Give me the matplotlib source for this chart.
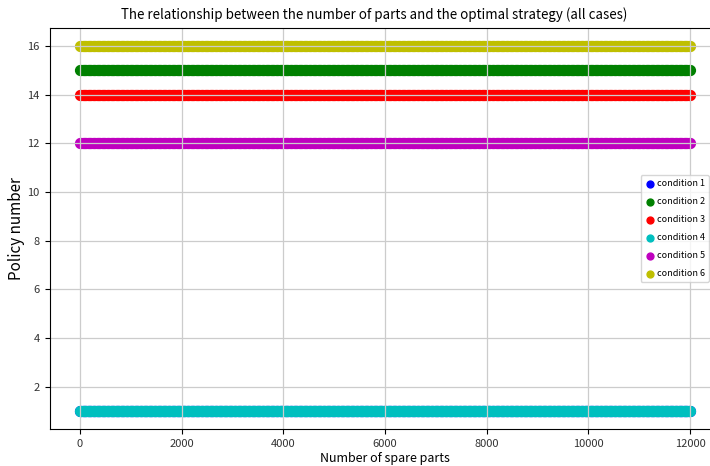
import numpy as np
import matplotlib
matplotlib.use("Agg")
import matplotlib.pyplot as plt

plt.rcParams['font.family'] = ['Noto Sans CJK SC', 'DejaVu Sans']

# number of spare parts evaluated
spare_parts = np.arange(0, 12001, 25)

# optimal policy number found for each condition
conditions = ["condition 1", "condition 2", "condition 3",
              "condition 4", "condition 5", "condition 6"]
policy_numbers = [1, 15, 14, 1, 12, 16]
colors = ["b", "g", "r", "c", "m", "y"]

fig = plt.figure(figsize=(7.10, 4.66), dpi=100)
ax = fig.add_axes([49.5 / 710, (466 - 429.3) / 466, 671 / 710, 401.6 / 466])

for name, policy, col in zip(conditions, policy_numbers, colors):
    ax.scatter(spare_parts, np.full(spare_parts.shape, policy), s=50,
               color=col, label=name)

ax.grid(True, color="#cccccc", linewidth=0.9)
ax.set_xticks([0, 2000, 4000, 6000, 8000, 10000, 12000])
ax.set_yticks([2, 4, 6, 8, 10, 12, 14, 16])
ax.tick_params(labelsize=8, labelcolor="#333333")
ax.set_xlabel("Number of spare parts", fontsize=9, labelpad=2)
ax.set_ylabel("Policy number", fontsize=11, labelpad=2)
ax.set_title("The relationship between the number of parts and the optimal strategy (all cases)",
             fontsize=9.6, x=(374 - 49.5) / 671)
ax.legend(loc="center right", bbox_to_anchor=((709 - 49.5) / 671, 0.5),
          borderaxespad=0, fontsize=6.5, handletextpad=0.15, handlelength=1.3,
          markerscale=0.7, labelspacing=1.0, borderpad=0.4)

fig.savefig("out.png", dpi=100)
